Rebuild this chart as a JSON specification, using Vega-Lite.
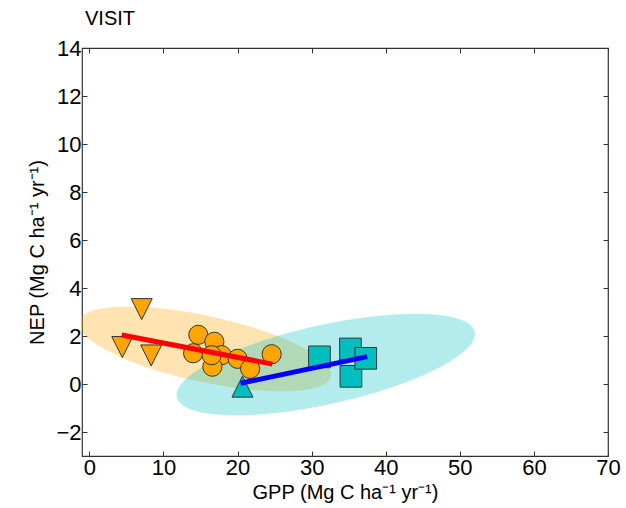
{
  "$schema": "https://vega.github.io/schema/vega-lite/v6.json",
  "width": 526,
  "height": 408,
  "autosize": {"type": "none"},
  "padding": {"left": 82, "top": 48, "right": 18, "bottom": 52},
  "title": {"text": "VISIT", "anchor": "start", "frame": "group", "dx": 3, "fontSize": 20, "fontWeight": "normal", "font": "Liberation Sans", "color": "#000", "offset": 8},
  "config": {
    "view": {"stroke": "#333", "strokeWidth": 1.2},
    "axis": {"grid": false, "labelFont": "Liberation Sans", "titleFont": "Liberation Sans", "labelFontSize": 22, "titleFontSize": 20, "titleFontWeight": "normal", "labelColor": "#000", "titleColor": "#000", "tickColor": "#333", "domain": false, "tickSize": -5, "labelPadding": 6, "labelFlush": false}
  },
  "datasets": {
    "pts": [
      {"group": "ellO", "gpp": 15.6, "nep": 1.46},
      {"group": "ellC", "gpp": 31.9, "nep": 0.81},
      {"group": "triO", "gpp": 7.06, "nep": 3.12},
      {"group": "triO", "gpp": 4.44, "nep": 1.54},
      {"group": "triO", "gpp": 8.34, "nep": 1.19},
      {"group": "circ", "gpp": 14.7, "nep": 2.05},
      {"group": "circ", "gpp": 16.86, "nep": 1.76},
      {"group": "circ", "gpp": 17.85, "nep": 1.2},
      {"group": "circ", "gpp": 14.0, "nep": 1.28},
      {"group": "circ", "gpp": 16.6, "nep": 0.72},
      {"group": "circ", "gpp": 16.5, "nep": 1.2},
      {"group": "circ", "gpp": 20.0, "nep": 1.05},
      {"group": "circ", "gpp": 21.7, "nep": 0.63},
      {"group": "circ", "gpp": 24.6, "nep": 1.24},
      {"group": "triC", "gpp": 20.66, "nep": -0.11},
      {"group": "sq", "gpp": 31.05, "nep": 1.13},
      {"group": "sq", "gpp": 35.3, "nep": 0.32},
      {"group": "sq", "gpp": 35.24, "nep": 1.46},
      {"group": "sq", "gpp": 37.3, "nep": 1.07},
      {"group": "red", "gpp": 4.36, "nep": 2.04},
      {"group": "red", "gpp": 24.7, "nep": 0.83},
      {"group": "blue", "gpp": 20.4, "nep": 0.03},
      {"group": "blue", "gpp": 37.5, "nep": 1.14}
    ]
  },
  "data": {"name": "pts"},
  "layer": [
    {
      "encoding": {
        "x": {"field": "gpp", "type": "quantitative", "scale": {"domain": [-1, 70], "nice": false, "zero": false},
          "axis": {"values": [0, 10, 20, 30, 40, 50, 60, 70], "title": "GPP (Mg C ha⁻¹ yr⁻¹)", "titlePadding": 4}},
        "y": {"field": "nep", "type": "quantitative", "scale": {"domain": [-3, 14], "nice": false, "zero": false},
          "axis": {"values": [-2, 0, 2, 4, 6, 8, 10, 12, 14], "title": "NEP (Mg C ha⁻¹ yr⁻¹)", "titlePadding": 8}}
      },
      "layer": [
        {"transform": [{"filter": "datum.group === 'ellO'"}],
         "mark": {"type": "point", "filled": true, "clip": true, "shape": "M-1,0A1,0.256 0 1,1 1,0A1,0.256 0 1,1 -1,0Z", "size": 66564, "angle": 12.3, "color": "#FFA500", "opacity": 0.3, "strokeWidth": 0}},
        {"transform": [{"filter": "datum.group === 'ellC'"}],
         "mark": {"type": "point", "filled": true, "clip": true, "shape": "M-1,0A1,0.26 0 1,1 1,0A1,0.26 0 1,1 -1,0Z", "size": 93025, "angle": 347.6, "color": "#00BFBF", "opacity": 0.3, "strokeWidth": 0}},
        {"transform": [{"filter": "datum.group === 'red'"}, {"aggregate": [{"op": "count", "as": "n"}]}],
         "mark": {"type": "rule", "color": "#000", "strokeWidth": 1}, "encoding": {"x": {"datum": 0}, "y": null}},
        {"transform": [{"filter": "datum.group === 'red'"}, {"aggregate": [{"op": "count", "as": "n"}]}],
         "mark": {"type": "rule", "color": "#000", "strokeWidth": 1}, "encoding": {"y": {"datum": 0}, "x": null}},
        {"transform": [{"filter": "datum.group === 'triO'"}],
         "mark": {"type": "point", "filled": true, "shape": "M-1,-1L1,-1L0,1Z", "size": 441, "fill": "#FFA500", "stroke": "#333", "strokeWidth": 1, "opacity": 1}},
        {"transform": [{"filter": "datum.group === 'circ'"}],
         "mark": {"type": "point", "filled": true, "shape": "circle", "size": 368, "fill": "#FFA500", "stroke": "#333", "strokeWidth": 1, "opacity": 1}},
        {"transform": [{"filter": "datum.group === 'triC'"}],
         "mark": {"type": "point", "filled": true, "shape": "M0,-1L1,1L-1,1Z", "size": 441, "fill": "#00BFBF", "stroke": "#333", "strokeWidth": 1, "opacity": 1}},
        {"transform": [{"filter": "datum.group === 'sq'"}],
         "mark": {"type": "point", "filled": true, "shape": "square", "size": 470, "fill": "#00BFBF", "stroke": "#333", "strokeWidth": 1, "opacity": 1}},
        {"transform": [{"filter": "datum.group === 'red'"}],
         "mark": {"type": "line", "color": "#FF0000", "strokeWidth": 5}},
        {"transform": [{"filter": "datum.group === 'blue'"}],
         "mark": {"type": "line", "color": "#0000FF", "strokeWidth": 5}}
      ]
    },
    {"transform": [{"filter": "datum.group === 'red'"}],
     "mark": {"type": "point", "opacity": 0},
     "encoding": {
       "x": {"field": "gpp", "type": "quantitative", "scale": {"domain": [-1, 70], "nice": false, "zero": false}, "axis": {"orient": "top", "labels": false, "title": null, "values": [0, 10, 20, 30, 40, 50, 60, 70]}},
       "y": {"field": "nep", "type": "quantitative", "scale": {"domain": [-3, 14], "nice": false, "zero": false}, "axis": {"orient": "right", "labels": false, "title": null, "values": [-2, 0, 2, 4, 6, 8, 10, 12, 14]}}
     }}
  ],
  "resolve": {"axis": {"x": "independent", "y": "independent"}}
}
